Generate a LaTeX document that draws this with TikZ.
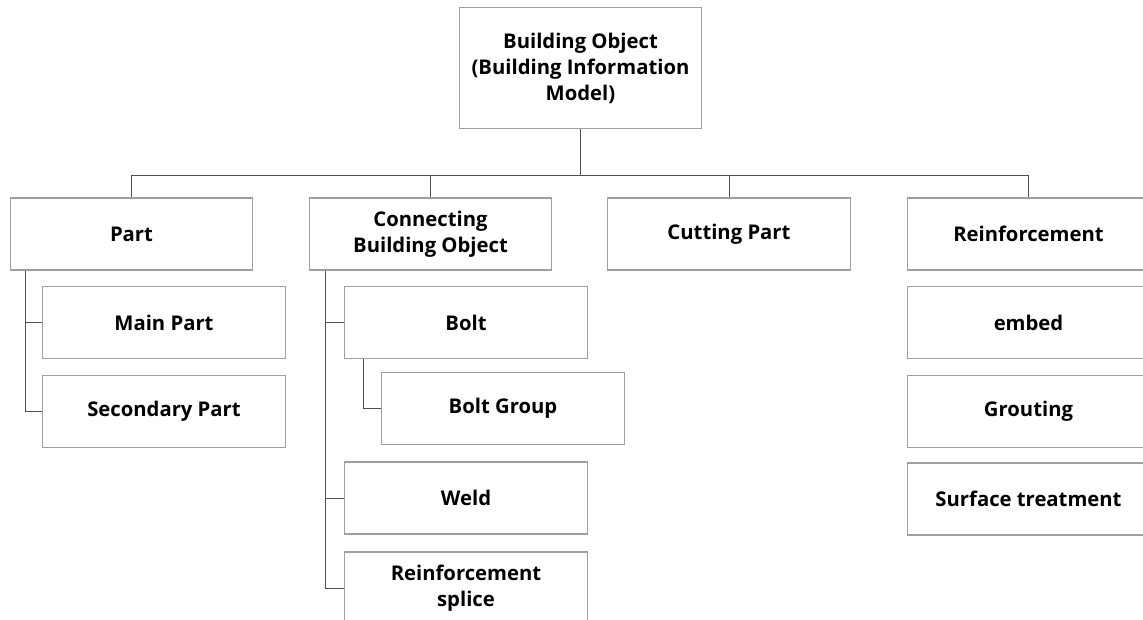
\documentclass[tikz,border=0pt]{standalone}
\usepackage{fontspec}
\setmainfont{Open Sans}
\definecolor{boxline}{HTML}{A0A0A0}
\definecolor{linkline}{HTML}{505050}
\tikzset{
  box/.style={draw=boxline,line width=0.9pt,minimum width=182pt,minimum height=54pt,
    align=center,inner sep=2pt,font=\fontsize{15.2}{19.5}\selectfont\bfseries},
  link/.style={draw=linkline,line width=0.7pt}
}
\begin{document}
\begin{tikzpicture}[x=0.75pt,y=-0.75pt]
		\useasboundingbox (0,0) rectangle (1143,620);
		\clip (0,0) rectangle (1143,620);
		%root
		\node[box,minimum height=91pt] (root) at (580.5,68) {Building Object\\(Building Information\\Model)};
		\coordinate (bus) at (580.5,175);
		%first level
		\node[box] (part) at (131.5,234) {Part};
		\node[box] (conn) at (430.5,234) {Connecting\\Building Object};
		\node[box] (cut) at (729,234) {Cutting Part};
		\node[box] (reinf) at (1028.5,234) {Reinforcement};
		%children of Part
		\node[box] (main) at (164,322.5) {Main Part};
		\node[box] (second) at (164,411.5) {Secondary Part};
		%children of Connecting Building Object
		\node[box] (bolt) at (466,322.5) {Bolt};
		\node[box] (group) at (503,408.5) {Bolt Group};
		\node[box] (weld) at (466,498) {Weld};
		\node[box] (splice) at (466,588) {Reinforcement\\splice};
		%children of Reinforcement
		\node[box] (embed) at (1028.5,322.5) {embed};
		\node[box] (grout) at (1028.5,411.5) {Grouting};
		\node[box] (surf) at (1028.5,499) {Surface treatment};
		%connectors
		\draw[link] (root.south) -- (bus);
		\foreach \n in {part,conn,cut,reinf}
		\draw[link] (bus) -| (\n.north);
		\foreach \n in {main,second}
		\draw[link] ([xshift=12pt]part.south west) |- (\n.west);
		\foreach \n in {bolt,weld,splice}
		\draw[link] ([xshift=12.75pt]conn.south west) |- (\n.west);
		\draw[link] ([xshift=14.25pt]bolt.south west) |- (group.west);
	\end{tikzpicture}
\end{document}
